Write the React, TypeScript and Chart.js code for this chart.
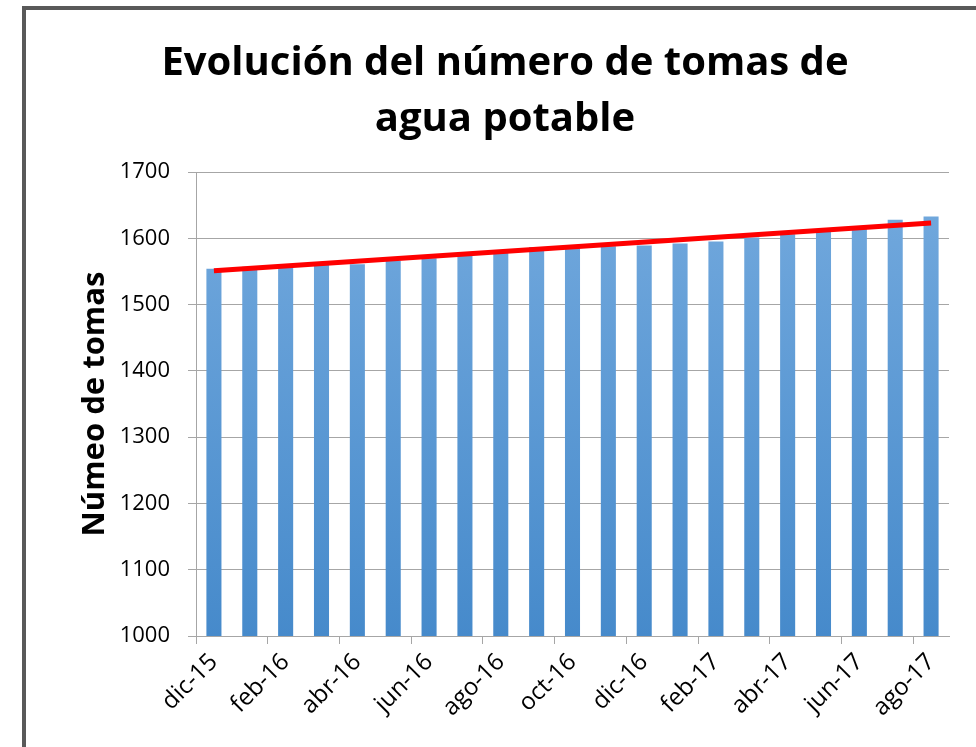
import React, { useEffect, useRef } from 'react';
import { Chart, registerables } from 'chart.js';

Chart.register(...registerables);

const categories = [
  'dic-15', 'ene-16', 'feb-16', 'mar-16', 'abr-16', 'may-16', 'jun-16', 'jul-16',
  'ago-16', 'sep-16', 'oct-16', 'nov-16', 'dic-16', 'ene-17', 'feb-17', 'mar-17',
  'abr-17', 'may-17', 'jun-17', 'jul-17', 'ago-17',
];
const tomas = [
  1554, 1557, 1557, 1560, 1561, 1566, 1570, 1579, 1578, 1587, 1585, 1588, 1589,
  1592, 1595, 1601, 1606, 1610, 1614, 1628, 1633,
];
const trendStart = 1551;
const trendEnd = 1623;
const yMin = 1000;
const yMax = 1700;
const yStep = 100;
const titleLines = ['Evolución del número de tomas de', 'agua potable'];
const yTitle = 'Númeo de tomas';

const FONT = "'Open Sans', 'DejaVu Sans', sans-serif";

export default function App() {
  const ref = useRef<HTMLCanvasElement | null>(null);

  useEffect(() => {
    if (!ref.current) return;
    const trend = categories.map((_, i) =>
      i === 0 ? trendStart : i === categories.length - 1 ? trendEnd : null
    );
    const chart = new Chart(ref.current, {
      type: 'bar',
      data: {
        labels: categories,
        datasets: [
          {
            type: 'line',
            label: 'Tendencia',
            data: trend as any,
            borderColor: '#FF0000',
            borderWidth: 5,
            pointRadius: 0,
            spanGaps: true,
            fill: false,
            order: 0,
          } as any,
          {
            type: 'bar',
            label: 'Tomas',
            data: tomas,
            order: 1,
            categoryPercentage: 1,
            barPercentage: 0.42,
            backgroundColor: (ctx: any) => {
              const area = ctx.chart.chartArea;
              if (!area) return '#5B9BD5';
              const g = ctx.chart.ctx.createLinearGradient(0, area.top, 0, area.bottom);
              g.addColorStop(0, '#74AADE');
              g.addColorStop(1, '#468ACB');
              return g;
            },
          } as any,
        ],
      },
      options: {
        animation: false,
        responsive: false,
        maintainAspectRatio: false,
        layout: { padding: { left: 61, right: 27, top: 0, bottom: 0 } },
        plugins: {
          legend: { display: false },
          tooltip: { enabled: false },
          title: {
            display: true,
            text: titleLines,
            color: '#000000',
            font: { family: FONT, size: 40, weight: 'bold', lineHeight: 1.4 },
            padding: { top: 36, bottom: 24 },
          },
        },
        scales: {
          x: {
            offset: true,
            grid: {
              offset: true,
              drawOnChartArea: false,
              tickLength: 8,
              color: (ctx: any) => (ctx.index % 2 === 0 ? '#A6A6A6' : 'rgba(0,0,0,0)'),
            },
            border: { display: true, color: '#A6A6A6', width: 1 },
            ticks: {
              autoSkip: false,
              maxRotation: 45,
              minRotation: 45,
              padding: 4,
              color: '#000000',
              font: { family: FONT, size: 24 },
              callback: (_v: any, i: number) => (i % 2 === 0 ? categories[i] : ''),
            },
            afterFit: (scale: any) => {
              scale.height = 111;
            },
          },
          y: {
            min: yMin,
            max: yMax,
            ticks: {
              stepSize: yStep,
              padding: 18,
              color: '#000000',
              font: { family: FONT, size: 22 },
              callback: (v: any) => String(v),
            },
            grid: { color: '#A6A6A6', tickLength: 8, lineWidth: 1 },
            border: { display: true, color: '#A6A6A6', width: 1 },
            title: {
              display: true,
              text: yTitle,
              color: '#000000',
              font: { family: FONT, size: 31, weight: 'bold' },
              padding: { top: 16, bottom: 0 },
            },
            afterFit: (scale: any) => {
              scale.width = 135;
            },
          },
        },
      },
    });
    return () => chart.destroy();
  }, []);

  return (
    <div style={{ position: 'absolute', left: 0, top: 0, width: 976, height: 747, overflow: 'hidden', background: '#ffffff' }}>
      <div
        style={{
          position: 'absolute',
          left: 22,
          top: 6,
          width: 1000,
          height: 800,
          borderLeft: '4px solid #595959',
          borderTop: '4px solid #595959',
        }}
      />
      <canvas
        ref={ref}
        width={976}
        height={747}
        style={{ position: 'absolute', left: 0, top: 0, width: 976, height: 747 }}
      />
    </div>
  );
}
